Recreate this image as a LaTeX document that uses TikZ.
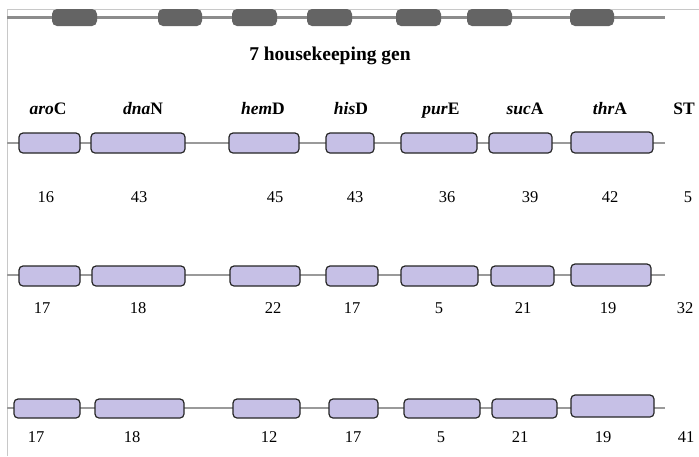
\documentclass[tikz,border=0pt]{standalone}
\usepackage{fontspec}
\setmainfont{Liberation Serif}
\definecolor{lav}{HTML}{C6C0E6}
\definecolor{darkbox}{HTML}{646464}
\definecolor{backbone}{HTML}{8C8C8C}
\definecolor{rowline}{HTML}{9A9A9A}
\definecolor{frame}{HTML}{C8C8C8}
\begin{document}
\begin{tikzpicture}[x=1pt,y=-1pt,
  genebox/.style={draw=black!85, fill=lav, rounded corners=4pt, line width=1.2pt, inner sep=0pt, outer sep=0pt},
  topbox/.style={fill=darkbox, rounded corners=5pt, inner sep=0pt, outer sep=0pt, minimum height=17pt},
  genelabel/.style={font=\fontsize{17.5}{19}\selectfont\bfseries, inner sep=0pt, anchor=base},
  numlabel/.style={font=\fontsize{16.5}{18}\selectfont, inner sep=0pt},
  rowln/.style={draw=rowline, line width=1.1pt}]
\useasboundingbox (0,0) rectangle (699,456);
\fill[white] (0,0) rectangle (699,456);
% frame
\coordinate (fb) at (7,456);
\coordinate (ftl) at (7,9);
\coordinate (ftr) at (699,9);
\draw[frame, line width=1pt] (fb) -- (ftl) -- (ftr);
% top backbone
\coordinate (ts) at (7,17);
\coordinate (te) at (665,17);
\draw[backbone, line width=3pt] (ts) -- (te);
\foreach \n/\xa/\xb in {1/52/97, 2/158/202, 3/232/277, 4/307/352, 5/396/441, 6/467/512, 7/570/614}
  \node[topbox, minimum width={(\xb-\xa)*1pt}] (t\n) at ({(\xa+\xb)/2},17.5) {};
% title
\node[font=\fontsize{19.5}{21}\selectfont\bfseries, inner sep=0pt] (title) at (330,56) {7 housekeeping gen};
% gene labels
\node[genelabel] (la) at (48,114) {\textit{aro}C};
\node[genelabel] (lb) at (143,114) {\textit{dna}N};
\node[genelabel] (lc) at (263,114) {\textit{hem}D};
\node[genelabel] (ld) at (351,114) {\textit{his}D};
\node[genelabel] (le) at (441,114) {\textit{pur}E};
\node[genelabel] (lf) at (525,114) {\textit{suc}A};
\node[genelabel] (lg) at (610,114) {\textit{thr}A};
\node[genelabel] (lh) at (684,114) {ST};
% row lines
\coordinate (s1) at (7,143);  \coordinate (e1) at (665,143);
\coordinate (s2) at (7,275);  \coordinate (e2) at (665,275);
\coordinate (s3) at (7,408);  \coordinate (e3) at (665,408);
\draw[rowln] (s1) -- (e1);
\draw[rowln] (s2) -- (e2);
\draw[rowln] (s3) -- (e3);
% row 1 boxes
\foreach \n/\xa/\xb/\ya/\yb in {a/19/80/133/153, b/91/185/133/153, c/229/299/133/153, d/326/374/133/153, e/401/477/133/153, f/489/552/133/153, g/571/653/132/153}
  \node[genebox, minimum width={(\xb-\xa)*1pt}, minimum height={(\yb-\ya)*1pt}] (r1\n) at ({(\xa+\xb)/2},{(\ya+\yb)/2}) {};
% row 2 boxes
\foreach \n/\xa/\xb/\ya/\yb in {a/19/80/266/286, b/92/185/266/286, c/230/300/266/286, d/326/378/266/286, e/401/478/266/286, f/491/554/266/286, g/571/651/264/286}
  \node[genebox, minimum width={(\xb-\xa)*1pt}, minimum height={(\yb-\ya)*1pt}] (r2\n) at ({(\xa+\xb)/2},{(\ya+\yb)/2}) {};
% row 3 boxes
\foreach \n/\xa/\xb/\ya/\yb in {a/14/80/399/418, b/95/184/399/418, c/233/300/399/418, d/329/378/399/418, e/404/480/399/418, f/492/557/399/418, g/571/654/395/417}
  \node[genebox, minimum width={(\xb-\xa)*1pt}, minimum height={(\yb-\ya)*1pt}] (r3\n) at ({(\xa+\xb)/2},{(\ya+\yb)/2}) {};
% numbers
\foreach \n/\x/\t in {a/46/16, b/139/43, c/275/45, d/355/43, e/447/36, f/530/39, g/610/42, h/688/5}
  \node[numlabel] (n1\n) at (\x,197) {\t};
\foreach \n/\x/\t in {a/42/17, b/138/18, c/273/22, d/352/17, e/439/5, f/523/21, g/608/19, h/685/32}
  \node[numlabel] (n2\n) at (\x,308) {\t};
\foreach \n/\x/\t in {a/36/17, b/132/18, c/269/12, d/353/17, e/441/5, f/520/21, g/603/19, h/686/41}
  \node[numlabel] (n3\n) at (\x,437) {\t};
\end{tikzpicture}
\end{document}
